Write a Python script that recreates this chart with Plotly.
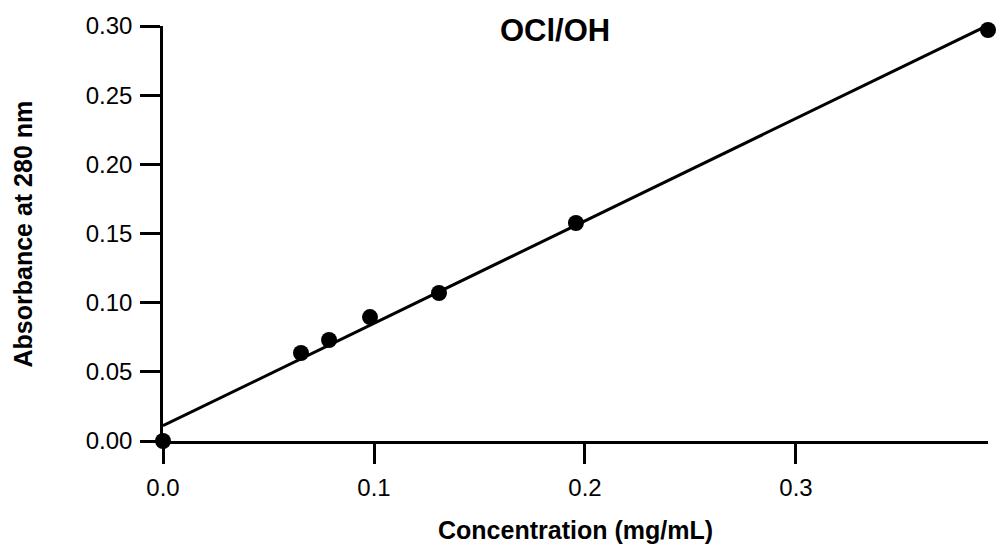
import numpy as np
import plotly.graph_objects as go

# Data
conc = [0.0, 0.0654, 0.0787, 0.0981, 0.1308, 0.1957, 0.3910]
absorb = [0.0, 0.0636, 0.0730, 0.0896, 0.1070, 0.1576, 0.2971]
x_ticks = [0.0, 0.1, 0.2, 0.3]
x_tick_labels = ["0.0", "0.1", "0.2", "0.3"]
y_ticks = [0.00, 0.05, 0.10, 0.15, 0.20, 0.25, 0.30]
y_tick_labels = ["0.00", "0.05", "0.10", "0.15", "0.20", "0.25", "0.30"]

slope, intercept = np.polyfit(conc, absorb, 1)
fit_x = [0.0, max(conc)]
fit_y = [intercept + slope * v for v in fit_x]

FONT = "Liberation Sans, Arial, sans-serif"

fig = go.Figure()
fig.add_trace(go.Scatter(x=fit_x, y=fit_y, mode="lines",
                         line=dict(color="black", width=3), cliponaxis=False,
                         showlegend=False, hoverinfo="skip"))
fig.add_trace(go.Scatter(x=conc, y=absorb, mode="markers",
                         marker=dict(color="black", size=16), cliponaxis=False,
                         showlegend=False))

axis_common = dict(showgrid=False, zeroline=False, showline=True, linecolor="black",
                   linewidth=2.5, ticks="outside", ticklen=20, tickwidth=2.5,
                   tickcolor="black", tickfont=dict(family=FONT, size=24, color="black"),
                   ticklabelstandoff=3)

fig.update_xaxes(range=[0, 0.391], tickvals=x_ticks, ticktext=x_tick_labels, **axis_common)
fig.update_yaxes(range=[0, 0.30], tickvals=y_ticks, ticktext=y_tick_labels, **axis_common)

fig.update_layout(
    width=1000, height=554,
    margin=dict(l=163, r=12, t=26, b=113),
    paper_bgcolor="white", plot_bgcolor="white",
    annotations=[
        dict(text="<b>OCl/OH</b>", x=0.475, y=0.989, xref="paper", yref="paper",
             xanchor="center", yanchor="middle", showarrow=False,
             font=dict(family=FONT, size=31, color="black")),
        dict(text="<b>Concentration (mg/mL)</b>", x=0.5, y=-0.2145, xref="paper", yref="paper",
             xanchor="center", yanchor="middle", showarrow=False,
             font=dict(family=FONT, size=25, color="black")),
        dict(text="<b>Absorbance at 280 nm</b>", x=-0.1697, y=0.5, xref="paper", yref="paper",
             xanchor="center", yanchor="middle", showarrow=False, textangle=-90,
             font=dict(family=FONT, size=25, color="black")),
    ],
)

fig.write_html("out.html")
